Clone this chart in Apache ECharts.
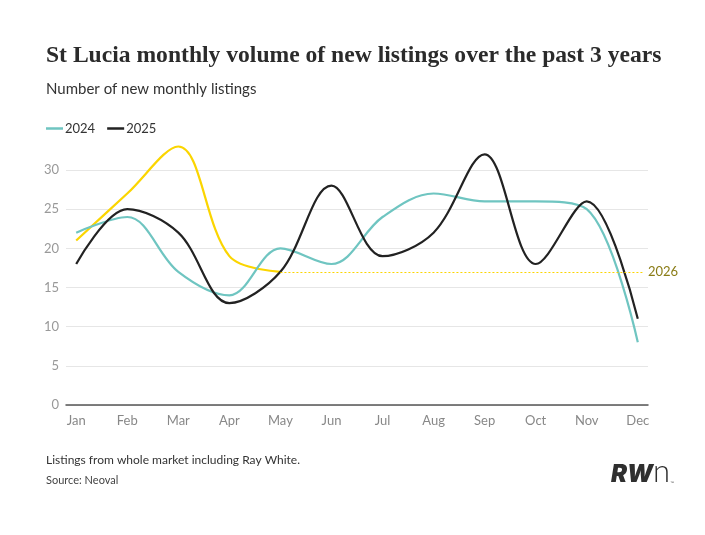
<!DOCTYPE html>
<html><head><meta charset="utf-8">
<script src="https://cdn.jsdelivr.net/npm/echarts@6/dist/echarts.min.js"></script>
<style>html,body{margin:0;padding:0;background:#fff}#c{width:705px;height:535px}</style>
</head><body><div id="c"></div>
<script>
const months = ['Jan','Feb','Mar','Apr','May','Jun','Jul','Aug','Sep','Oct','Nov','Dec'];
const values2024 = [22,24,17,14,20,18,24,27,26,26,25,8];
const values2025 = [18,25,22,13,17,28,19,22,32,18,26,11];
const values2026 = [21,27,33,19,17];
const yTicks = [0,5,10,15,20,25,30];

const last2026 = values2026[values2026.length-1];
const idx = months.map((m,i)=>i);
const chart = echarts.init(document.getElementById('c'));
const F = 'Lato, "Noto Sans", sans-serif';
const SM = 0.35;
chart.setOption({
  animation:false,
  backgroundColor:'#fff',
  title:[
    {text:'St Lucia monthly volume of new listings over the past 3 years',left:41,top:39,
     textStyle:{fontFamily:'"Liberation Serif", serif',fontWeight:'bold',fontSize:23.6,color:'#2b2b2b'}},
    {text:'Number of new monthly listings',left:41,top:77,
     textStyle:{fontFamily:F,fontWeight:'normal',fontSize:15,color:'#333'}},
    {text:'Listings from whole market including Ray White.',left:41,top:449,
     textStyle:{fontFamily:F,fontWeight:'normal',fontSize:12,color:'#333'}},
    {text:'Source: Neoval',left:41,top:470,
     textStyle:{fontFamily:F,fontWeight:'normal',fontSize:11,color:'#444'}}
  ],
  graphic:[
    {type:'text',left:611,top:463,style:{text:'RW',font:'italic 900 24px Inter, Roboto, sans-serif',fill:'#2f2f2f'}},
    {type:'text',left:653,top:456,style:{text:'n',font:'300 31px Lato, sans-serif',fill:'#2f2f2f'}},
    {type:'text',left:670,top:481,style:{text:'™',font:'4px sans-serif',fill:'#555'}}
  ],
  legend:{left:41,top:117,itemWidth:17,itemHeight:2.5,itemGap:12,icon:'rect',
    data:['2024','2025'],textStyle:{fontFamily:F,fontSize:13,color:'#333',padding:[0,0,0,-3]}},
  grid:{left:66,right:57,top:170,bottom:130,containLabel:false},
  xAxis:{type:'value',min:-0.2,max:11.2,
    axisLine:{show:true,onZero:false,lineStyle:{color:'#555',width:1.5}},
    axisTick:{show:false},splitLine:{show:false},
    axisLabel:{customValues:idx,formatter:v=>months[Math.round(v)]||'',margin:9,
      fontFamily:F,fontSize:13,color:'#888'}},
  yAxis:{type:'value',min:0,max:30,interval:5,
    axisLine:{show:false},axisTick:{show:false},
    axisLabel:{margin:7,fontFamily:F,fontSize:13,color:'#999'},
    splitLine:{lineStyle:{color:'#e6e6e6',width:1.2}}},
  series:[
    {name:'2024',type:'line',data:values2024.map((v,i)=>[i,v]),smooth:SM,showSymbol:false,clip:false,
     lineStyle:{color:'#6fc5c1',width:2.2},itemStyle:{color:'#6fc5c1'},z:2},
    {name:'2025',type:'line',data:values2025.map((v,i)=>[i,v]),smooth:SM,showSymbol:false,clip:false,
     lineStyle:{color:'#222',width:2.2},itemStyle:{color:'#222'},z:3},
    {name:'2026',type:'line',data:values2026.map((v,i)=>[i,v]),smooth:SM,showSymbol:false,clip:false,
     lineStyle:{color:'#fbd500',width:2.2},itemStyle:{color:'#fbd500'},z:1,
     markLine:{silent:true,symbol:'none',
       lineStyle:{color:'#fbd500',type:[2,2],width:1.2},
       label:{show:true,position:'end',formatter:'2026',fontFamily:F,fontSize:13,color:'#8a7c16',distance:5},
       data:[[{coord:[values2026.length-1,last2026]},{coord:[11.1,last2026]}]]}}
  ]
});
</script></body></html>
